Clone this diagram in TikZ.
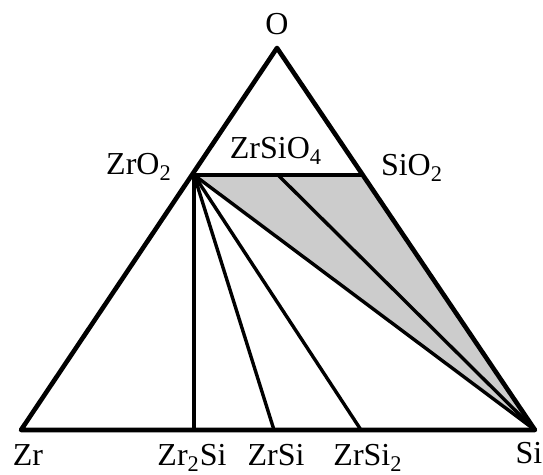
\documentclass[tikz,border=0pt]{standalone}
\usepackage{fontspec}
\setmainfont{Liberation Serif}
\usepackage{tikz}

\begin{document}
\begin{tikzpicture}[
    x=0.5pt, y=-0.5pt,
    edge/.style={line width=2.3pt, line join=round, line cap=round},
    tie/.style={line width=1.7pt, line cap=round},
    region/.style={fill=gray!40},
    phase/.style={font=\fontsize{16}{19}\selectfont, inner sep=0pt, anchor=base}
  ]
    \useasboundingbox (0,0) rectangle (543,475);

    % corners and compounds
    \coordinate (Zr)     at (21,430);
    \coordinate (Si)     at (535,430);
    \coordinate (O)      at (277,48);
    \coordinate (ZrO2)   at (194,175);
    \coordinate (SiO2)   at (363,175);
    \coordinate (ZrSiO4) at (278,175);
    \coordinate (Zr2Si)  at (194,430);
    \coordinate (ZrSi)   at (274,430);
    \coordinate (ZrSi2)  at (361,430);

    \fill[region] (ZrO2) -- (SiO2) -- (Si) -- cycle;

    \draw[tie] (ZrO2) -- (SiO2);
    \draw[tie] (ZrO2) -- (Zr2Si);
    \draw[tie] (ZrO2) -- (ZrSi);
    \draw[tie] (ZrO2) -- (ZrSi2);
    \draw[tie] (ZrO2) -- (Si);
    \draw[tie] (ZrSiO4) -- (Si);
    \draw[edge] (Zr) -- (Si) -- (O) -- cycle;

    \node[phase] (lO)      at (277,35)  {O};
    \node[phase] (lZrO2)   at (139,175) {ZrO\textsubscript{2}};
    \node[phase] (lZrSiO4) at (276,159) {ZrSiO\textsubscript{4}};
    \node[phase] (lSiO2)   at (412,176) {SiO\textsubscript{2}};
    \node[phase] (lZr)     at (28,466)  {Zr};
    \node[phase] (lZr2Si)  at (192,466) {Zr\textsubscript{2}Si};
    \node[phase] (lZrSi)   at (276,466) {ZrSi};
    \node[phase] (lZrSi2)  at (368,466) {ZrSi\textsubscript{2}};
    \node[phase] (lSi)     at (529,464) {Si};
  \end{tikzpicture}
\end{document}
